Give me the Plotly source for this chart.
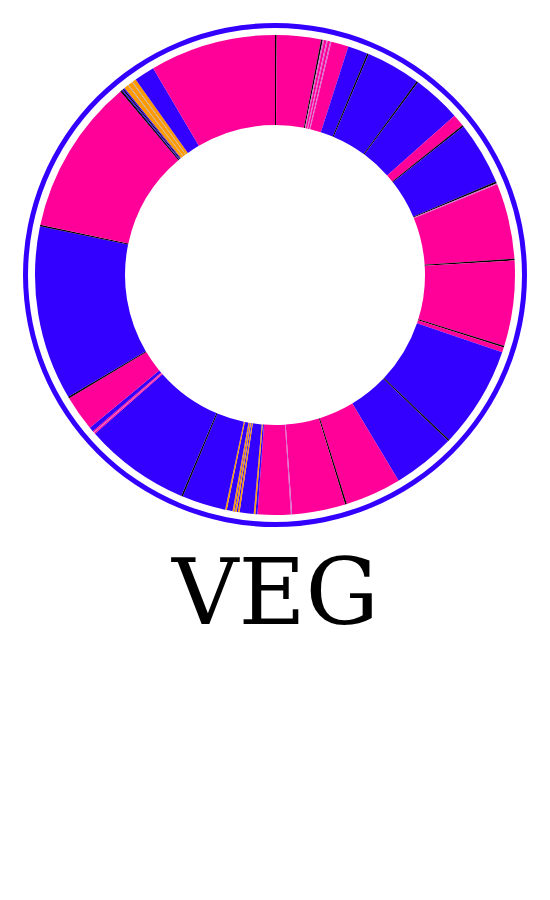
import plotly.graph_objects as go

# Slice values (degrees of the ring, clockwise from 12 o'clock) and their colour groups
slice_values = [
    0.4, 10.7, 0.4, 0.3, 0.6, 0.3, 0.6, 0.3, 4.2, 4.8,
    0.4, 13.2, 0.4, 11.8, 3.0, 0.4, 15.3, 0.4, 0.3, 18.3,
    0.4, 20.7, 0.4, 1.2, 24.6, 0.4, 15.2, 13.6, 0.4, 12.9,
    0.3, 8.0, 0.5, 0.4, 3.4, 0.4, 0.3, 0.4, 0.2, 0.4,
    1.4, 0.4, 10.6, 0.4, 25.6, 0.3, 0.2, 0.3, 1.1, 8.6,
    0.4, 42.2, 0.4, 37.8, 0.4, 0.3, 0.3, 0.3, 1.0, 0.2,
    1.0, 0.2, 0.9, 5.0, 30.5,
]
slice_groups = [
    "K", "M", "K", "P", "M", "P", "M", "P", "M", "B",
    "K", "B", "K", "B", "M", "K", "B", "K", "P", "M",
    "K", "M", "K", "M", "B", "K", "B", "M", "K", "M",
    "P", "M", "B", "O", "B", "O", "B", "O", "B", "O",
    "B", "O", "B", "K", "B", "M", "P", "M", "B", "M",
    "K", "B", "K", "M", "K", "B", "K", "B", "O", "G",
    "O", "G", "O", "B", "M",
]
slice_labels = [f"s{i + 1:02d}" for i in range(len(slice_values))]

group_colors = {
    "M": "#FF0099",
    "B": "#3300FF",
    "O": "#FF9900",
    "K": "#000000",
    "P": "#D070D0",
    "G": "#B0A0A0",
}

ring_values = [1]
title_text = "VEG"

W, H = 550, 900
cx, cy = 275, 275
r_out, r_in = 240, 150
ring_out, ring_in = 252, 247

fig = go.Figure()

fig.add_trace(go.Pie(
    values=ring_values,
    labels=["ring"],
    hole=ring_in / ring_out,
    marker=dict(colors=["#3300FF"], line=dict(width=0)),
    textinfo="none",
    sort=False,
    showlegend=False,
    hoverinfo="skip",
    domain=dict(x=[(cx - ring_out) / W, (cx + ring_out) / W],
                y=[1 - (cy + ring_out) / H, 1 - (cy - ring_out) / H]),
))

fig.add_trace(go.Pie(
    values=slice_values,
    labels=slice_labels,
    hole=r_in / r_out,
    marker=dict(colors=[group_colors[g] for g in slice_groups], line=dict(width=0)),
    textinfo="none",
    sort=False,
    direction="clockwise",
    rotation=0,
    showlegend=False,
    domain=dict(x=[(cx - r_out) / W, (cx + r_out) / W],
                y=[1 - (cy + r_out) / H, 1 - (cy - r_out) / H]),
))

fig.add_annotation(
    text=title_text,
    x=0.5, y=1 - 592 / H,
    xref="paper", yref="paper",
    xanchor="center", yanchor="middle",
    showarrow=False,
    font=dict(family="DejaVu Serif", size=92, color="#000000"),
)

fig.update_layout(
    width=W, height=H,
    margin=dict(l=0, r=0, t=0, b=0),
    paper_bgcolor="white",
    plot_bgcolor="white",
)

fig.write_html("out.html")
